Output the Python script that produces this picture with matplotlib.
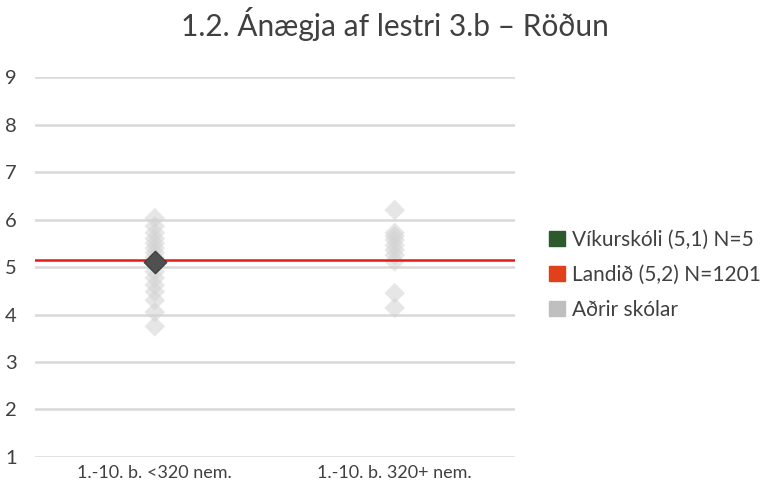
import matplotlib
matplotlib.use("Agg")
import matplotlib.pyplot as plt
from matplotlib.patches import Patch

categories = ["1.-10. b. <320 nem.", "1.-10. b. 320+ nem."]
others_g1 = [6.03, 5.86, 5.72, 5.6, 5.5, 5.4, 5.3, 5.2, 4.9, 4.77, 4.62, 4.48, 4.3, 4.05, 3.75]
others_g2 = [6.2, 5.72, 5.65, 5.57, 5.46, 5.36, 5.25, 5.12, 4.45, 4.14]
school_value = 5.1
national_value = 5.15
legend_labels = ["Víkurskóli (5,1) N=5", "Landið (5,2) N=1201", "Aðrir skólar"]
yticks = [1, 2, 3, 4, 5, 6, 7, 8, 9]

plt.rcParams['font.family'] = ['Lato', 'DejaVu Sans']
fig = plt.figure(figsize=(7.74, 4.82), dpi=100)
ax = fig.add_axes([0.045, 0.052, 0.62, 0.788])

for y in yticks:
    ax.axhline(y, color='#d9d9d9', lw=1.8, zorder=0)

ax.scatter([0]*len(others_g1), others_g1, marker='D', s=110, color='#d3d3d3', alpha=0.55, edgecolors='none', zorder=2)
ax.scatter([1]*len(others_g2), others_g2, marker='D', s=110, color='#d3d3d3', alpha=0.55, edgecolors='none', zorder=2)
ax.axhline(national_value, color='#e31a1c', lw=1.8, zorder=3)
ax.scatter([0], [school_value], marker='D', s=130, color='#505050', edgecolors='#404040', zorder=4)

ax.set_xlim(-0.5, 1.5)
ax.set_ylim(1, 9)
ax.set_xticks([0, 1])
ax.set_xticklabels(categories, fontsize=13, color='#404040')
ax.set_yticks(yticks)
ax.set_yticklabels([str(v) for v in yticks], fontsize=14.5, color='#404040')
ax.tick_params(length=0)
ax.tick_params(axis='x', pad=6)
ax.tick_params(axis='y', pad=13)
for s in ax.spines.values():
    s.set_visible(False)

fig.suptitle("1.2. Ánægja af lestri 3.b – Röðun", x=0.51, y=0.985, fontsize=21.5, color='#404040')

handles = [Patch(color='#2d5a2d'), Patch(color='#e0401a'), Patch(color='#bfbfbf')]
fig.legend(handles, legend_labels, loc='center left', bbox_to_anchor=(0.685, 0.43),
           frameon=False, fontsize=15, handlelength=0.75, handleheight=0.75,
           handletextpad=0.35, labelspacing=0.72, labelcolor='#404040')

fig.savefig("out.png", dpi=100)
